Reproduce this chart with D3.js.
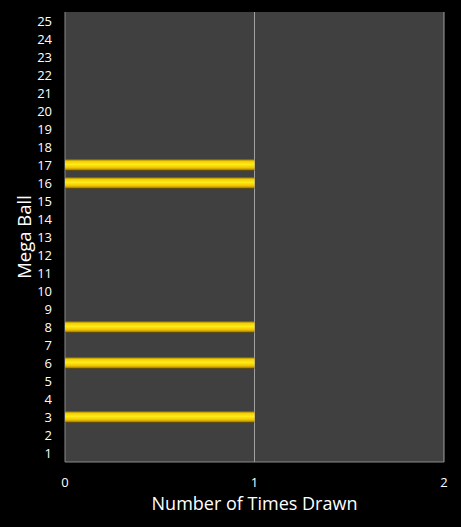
<!DOCTYPE html>
<html><head><meta charset="utf-8">
<script src="https://cdn.jsdelivr.net/npm/d3@7"></script>
<style>body{margin:0;background:#000;}svg{display:block;}</style>
</head><body>
<script>
const categories = d3.range(1, 26).map(String);
const values = [0,0,1,0,0,1,0,1,0,0,0,0,0,0,0,1,1,0,0,0,0,0,0,0,0];
const xTicks = [0, 1, 2];
const xTitle = "Number of Times Drawn";
const yTitle = "Mega Ball";

const W = 461, H = 527;
const m = {left: 65, right: 17, top: 12, bottom: 65};
const svg = d3.select("body").append("svg").attr("width", W).attr("height", H)
  .style("background", "#000").style("font-family", "'Open Sans', sans-serif");

const x = d3.scaleLinear().domain([0, 2]).range([m.left, W - m.right]);
const y = d3.scaleBand().domain(categories.slice().reverse()).range([m.top, H - m.bottom]).paddingInner(0.38).paddingOuter(0.19);

const defs = svg.append("defs");
const g = defs.append("linearGradient").attr("id", "barg").attr("x1", 0).attr("x2", 0).attr("y1", 0).attr("y2", 1);
[[0, "#9c7c08"], [0.18, "#f5d000"], [0.45, "#ffeb1a"], [0.72, "#f2c800"], [0.88, "#c89a00"], [1, "#6a5000"]]
  .forEach(([o, c]) => g.append("stop").attr("offset", o).attr("stop-color", c));

svg.append("rect").attr("x", x(0)).attr("y", m.top).attr("width", x(2) - x(0)).attr("height", H - m.bottom - m.top).attr("fill", "#404040");

svg.append("g").selectAll("line").data(xTicks.slice(1)).join("line")
  .attr("x1", d => x(d)).attr("x2", d => x(d)).attr("y1", m.top).attr("y2", H - m.bottom)
  .attr("stroke", "#a0a0a0").attr("stroke-width", 1);
svg.append("line").attr("x1", x(0)).attr("x2", x(0)).attr("y1", m.top).attr("y2", H - m.bottom).attr("stroke", "#8a8a8a");
svg.append("line").attr("x1", x(0)).attr("x2", x(2)).attr("y1", H - m.bottom).attr("y2", H - m.bottom).attr("stroke", "#8a8a8a");

svg.append("g").selectAll("rect").data(categories.map((c, i) => ({c, v: values[i]})).filter(d => d.v > 0)).join("rect")
  .attr("x", x(0)).attr("y", d => y(d.c)).attr("width", d => x(d.v) - x(0)).attr("height", y.bandwidth())
  .attr("fill", "url(#barg)");

svg.append("g").selectAll("text").data(categories).join("text")
  .attr("x", 52).attr("y", d => y(d) + y.bandwidth() / 2).attr("dy", "0.35em")
  .attr("text-anchor", "end").attr("fill", "#fff").attr("font-size", 13).text(d => d);

svg.append("g").selectAll("text").data(xTicks).join("text")
  .attr("x", d => x(d)).attr("y", 482).attr("dy", "0.35em")
  .attr("text-anchor", "middle").attr("fill", "#fff").attr("font-size", 13).text(d => d);

svg.append("text").attr("x", x(1)).attr("y", 504).attr("dy", "0.35em").attr("text-anchor", "middle")
  .attr("fill", "#fff").attr("font-size", 18).text(xTitle);
svg.append("text").attr("transform", `translate(25,${(m.top + H - m.bottom) / 2}) rotate(-90)`).attr("dy", "0.35em")
  .attr("text-anchor", "middle").attr("fill", "#fff").attr("font-size", 18.5).text(yTitle);
</script>
</body></html>
